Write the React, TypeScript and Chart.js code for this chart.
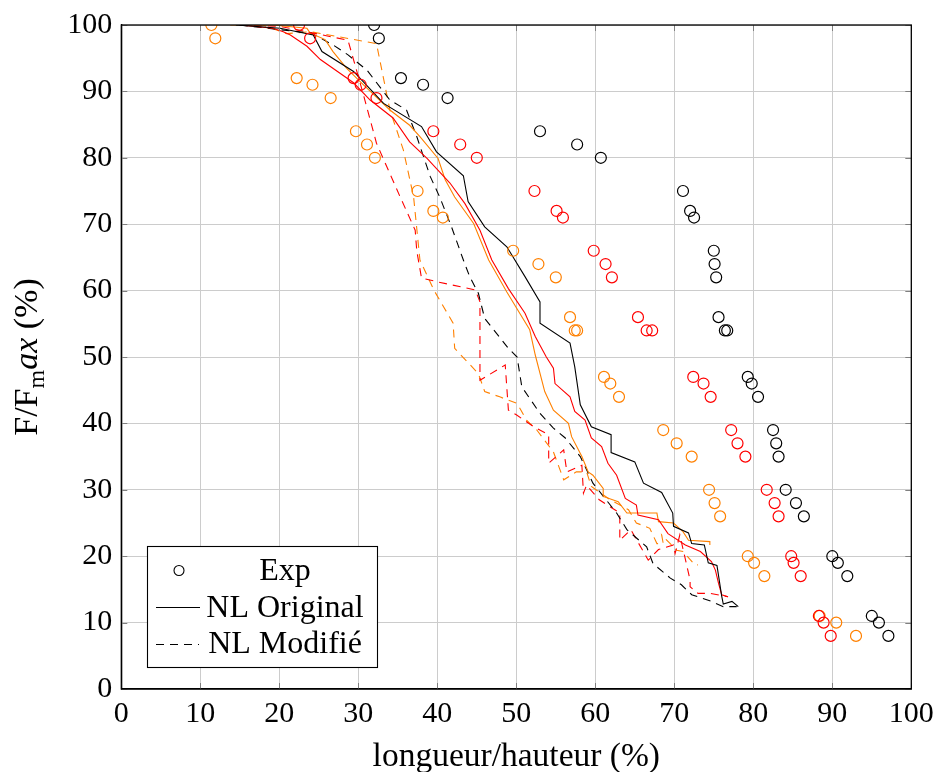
import React, { useEffect, useRef } from 'react';
import { Chart, registerables } from 'chart.js';

Chart.register(...registerables);

const FONT = "'Liberation Serif', 'Times New Roman', serif";
const BLACK = '#000000';
const RED = '#ff0000';
const ORANGE = '#ff8000';

const TICKS = [0, 10, 20, 30, 40, 50, 60, 70, 80, 90, 100];
const LEGEND_LABELS = ['Exp', 'NL Original', 'NL Modifié'];
const X_TITLE = 'longueur/hauteur (%)';

// Experimental points (same F/Fmax levels for the three series)
const expY = [100, 98, 92, 91, 89, 84, 82, 80, 75, 72, 71, 66, 64, 62, 56, 54, 54, 47, 46, 44, 39, 37, 35, 30, 28, 26, 20, 19, 17, 11, 10, 8];
const blackExpX = [32.0, 32.6, 35.4, 38.2, 41.3, 53.0, 57.7, 60.7, 71.1, 72.0, 72.5, 75.0, 75.1, 75.3, 75.6, 76.4, 76.7, 79.3, 79.8, 80.6, 82.5, 82.9, 83.2, 84.1, 85.4, 86.4, 90.0, 90.7, 91.9, 95.0, 95.9, 97.1];
const redExpX = [22.5, 23.9, 29.4, 30.3, 32.3, 39.5, 42.9, 45.0, 52.3, 55.1, 55.9, 59.8, 61.3, 62.1, 65.4, 66.5, 67.2, 72.4, 73.7, 74.6, 77.2, 78.0, 79.0, 81.7, 82.7, 83.2, 84.8, 85.1, 86.0, 88.3, 88.9, 89.8];
const orangeExpX = [11.4, 11.9, 22.2, 24.2, 26.5, 29.7, 31.1, 32.1, 37.5, 39.5, 40.7, 49.6, 52.8, 55.0, 56.8, 57.4, 57.7, 61.1, 61.9, 63.0, 68.6, 70.3, 72.2, 74.4, 75.1, 75.8, 79.3, 80.1, 81.4, 88.4, 90.5, 93.0];

// NL Original (solid)
const blackOrigX = [14.5, 20.1, 24.3, 25.4, 29.4, 33.2, 38.0, 39.9, 43.3, 43.9, 46.0, 48.8, 51.1, 53.0, 53.0, 56.8, 57.4, 58.1, 59.5, 62.0, 62.0, 65.0, 66.1, 68.4, 69.8, 69.9, 71.8, 72.2, 73.8, 74.3, 75.4, 76.0, 76.2, 77.3, 78.1];
const blackOrigY = [100, 99.5, 98.5, 96, 93, 88.2, 84.7, 80.9, 77.3, 73.4, 69.6, 66.6, 62.1, 58.3, 55.1, 52.1, 48.5, 42.8, 39.5, 38.3, 35.6, 34.2, 31, 29.6, 26.5, 24.5, 23.5, 21.9, 21.7, 19, 18.6, 14, 12.8, 13.2, 12.4];

const redOrigX = [15.0, 19.2, 20.5, 21.4, 23.5, 25.2, 29.4, 31.5, 34.4, 36.5, 38.7, 41.6, 43.5, 45.4, 46.9, 49.0, 51.1, 52.4, 53.8, 54.7, 54.9, 56.8, 57.4, 58.7, 59.5, 60.8, 61.6, 62.7, 63.8, 65.2, 65.4, 68.0, 69.2, 71.4, 73.3, 74.7, 75.2, 75.6, 76.0, 76.8];
const redOrigY = [100, 99.5, 99, 98.5, 96.8, 94.8, 91.3, 88.7, 86, 82.4, 79.9, 76.2, 73.1, 69.1, 64.6, 60.3, 56.6, 53.1, 50, 48.3, 46, 44, 41.8, 40.5, 37.8, 36.5, 34, 32.2, 28.7, 27.7, 26.2, 25.5, 23.4, 21.7, 20.7, 19.2, 17.9, 15.9, 14.2, 13.9];

const orangeOrigX = [15.0, 19.2, 23.5, 23.9, 25.8, 26.8, 28.5, 30.2, 34.0, 36.5, 37.8, 40.1, 41.0, 42.2, 44.6, 46.5, 48.8, 51.7, 52.4, 53.6, 54.7, 56.6, 57.0, 58.3, 59.1, 59.7, 61.0, 61.0, 62.9, 64.0, 67.8, 68.0, 69.9, 71.1, 71.8, 74.5, 74.5];
const orangeOrigY = [100, 100, 99.5, 98.8, 97.8, 96, 93.5, 91.5, 87.2, 84.9, 83.2, 79.9, 76.7, 74.1, 70.1, 64.6, 59.8, 54.1, 50.3, 44.8, 42, 40, 38, 35, 32.7, 32.2, 30.2, 29, 28.2, 26.5, 26.5, 25.2, 25, 23.7, 22.4, 22.2, 21.7];

// NL Modifié (dashed)
const blackModX = [15.0, 20.0, 24.0, 26.8, 28.7, 31.1, 34.0, 36.1, 37.4, 39.1, 40.3, 41.8, 43.3, 44.1, 45.2, 46.0, 49.0, 50.1, 50.7, 53.0, 54.7, 56.2, 58.1, 59.7, 62.7, 64.0, 66.5, 67.3, 69.5, 70.9, 72.2, 74.7, 76.2, 77.9];
const blackModY = [100, 99.3, 98.8, 97, 95.5, 93.2, 88.7, 87.2, 83.2, 77.2, 74.1, 69.6, 64.6, 62.1, 59.6, 55.8, 51.3, 50.0, 45.5, 41.5, 39.3, 37.8, 35, 31, 26.5, 24, 21.4, 18.9, 16.7, 15.7, 14.2, 13.2, 12.4, 12.4];

const redModX = [15.0, 20.0, 22.6, 28.7, 30.6, 32.3, 35.3, 37.2, 37.4, 38.0, 40.1, 44.8, 45.4, 45.4, 48.6, 49.0, 50.0, 52.2, 54.1, 54.1, 56.0, 56.4, 58.3, 58.5, 58.9, 60.5, 63.1, 63.1, 64.5, 66.7, 68.0, 69.9, 70.1, 70.7, 72.0, 72.0, 73.0, 74.5, 76.8];
const redModY = [100, 99.8, 99.2, 97.7, 89.7, 82.2, 74.1, 69.1, 66, 61.9, 61.3, 60.1, 58.3, 46.5, 48.8, 42, 41.3, 39.5, 38.3, 34, 36, 32.7, 33.7, 29.5, 30.7, 28.5, 26.5, 22.4, 24, 19.4, 21, 21.7, 20.4, 23.2, 16.4, 15.4, 14.4, 14.4, 13.9];

const orangeModX = [13.8, 17.9, 20.9, 23.9, 32.3, 34.0, 35.7, 37.0, 37.8, 39.6, 42.0, 42.2, 45.2, 46.0, 47.9, 50.1, 51.3, 52.6, 54.7, 56.0, 57.6, 58.9, 59.5, 61.9, 64.2, 65.2, 66.9, 67.8, 68.6, 68.4, 70.3, 71.1, 72.6, 73.0];
const orangeModY = [100, 100, 98.7, 99, 97.2, 87.2, 81.2, 74.1, 64.6, 60, 55.1, 51.3, 47.5, 44.8, 44, 43, 40.5, 39, 35.7, 31.5, 32.7, 32.7, 30.5, 28.5, 27, 25, 24.2, 21.9, 21.9, 23.2, 20.9, 20.7, 18.7, 18.7];

const pts = (xs: number[], ys: number[]) => xs.map((x, i) => ({ x, y: ys[i] }));

const expSet = (xs: number[], color: string) => ({
  data: pts(xs, expY),
  showLine: false,
  pointStyle: 'circle',
  pointRadius: 5.5,
  pointHoverRadius: 5.5,
  pointBorderWidth: 1.2,
  pointBorderColor: color,
  pointBackgroundColor: 'rgba(0,0,0,0)',
  borderColor: color,
  backgroundColor: 'rgba(0,0,0,0)',
});

const lineSet = (xs: number[], ys: number[], color: string, dashed: boolean) => ({
  data: pts(xs, ys),
  showLine: true,
  pointRadius: 0,
  pointHoverRadius: 0,
  borderColor: color,
  backgroundColor: color,
  borderWidth: 1.1,
  borderDash: dashed ? [8, 6] : [],
  tension: 0,
});

const decorPlugin = {
  id: 'decor',
  afterDraw(chart: any) {
    const { ctx, chartArea: a, scales } = chart;
    ctx.save();
    // inner tick marks
    ctx.strokeStyle = '#808080';
    ctx.lineWidth = 1;
    ctx.beginPath();
    for (const v of TICKS) {
      const px = Math.round(scales.x.getPixelForValue(v)) + 0.5;
      const py = Math.round(scales.y.getPixelForValue(v)) + 0.5;
      ctx.moveTo(px, a.bottom); ctx.lineTo(px, a.bottom - 6);
      ctx.moveTo(px, a.top); ctx.lineTo(px, a.top + 6);
      ctx.moveTo(a.left, py); ctx.lineTo(a.left + 6, py);
      ctx.moveTo(a.right, py); ctx.lineTo(a.right - 6, py);
    }
    ctx.stroke();
    // frame
    ctx.strokeStyle = '#000';
    ctx.lineWidth = 1.3;
    ctx.strokeRect(a.left, a.top, a.right - a.left, a.bottom - a.top);

    // legend
    const lx = 147.5, ly = 546.5, lw = 230, lh = 121;
    ctx.fillStyle = '#fff';
    ctx.fillRect(lx, ly, lw, lh);
    ctx.lineWidth = 1.1;
    ctx.strokeRect(lx, ly, lw, lh);
    ctx.fillStyle = '#000';
    ctx.font = `32px ${FONT}`;
    ctx.textAlign = 'center';
    ctx.textBaseline = 'alphabetic';
    const cx = 285;
    const baselines = [580, 616.5, 653];
    LEGEND_LABELS.forEach((t, i) => ctx.fillText(t, cx, baselines[i]));
    // symbols
    ctx.lineWidth = 1.1;
    ctx.beginPath();
    ctx.arc(179, 570.5, 5, 0, Math.PI * 2);
    ctx.stroke();
    ctx.beginPath();
    ctx.moveTo(156, 607.5); ctx.lineTo(200, 607.5);
    ctx.stroke();
    ctx.setLineDash([8, 6]);
    ctx.beginPath();
    ctx.moveTo(156, 644.5); ctx.lineTo(199, 644.5);
    ctx.stroke();
    ctx.setLineDash([]);

    // y axis title with subscript
    ctx.translate(26, (a.top + a.bottom) / 2);
    ctx.rotate(-Math.PI / 2);
    const parts = [
      { t: 'F/F', f: `34px ${FONT}`, dy: 0 },
      { t: 'm', f: `24px ${FONT}`, dy: 7 },
      { t: 'ax', f: `italic 34px ${FONT}`, dy: 0 },
      { t: ' (%)', f: `34px ${FONT}`, dy: 0 },
    ];
    let total = 0;
    const widths = parts.map((p) => { ctx.font = p.f; const w = ctx.measureText(p.t).width; total += w; return w; });
    let x = -total / 2;
    ctx.textAlign = 'left';
    ctx.textBaseline = 'alphabetic';
    parts.forEach((p, i) => {
      ctx.font = p.f;
      ctx.fillText(p.t, x, 11 + p.dy);
      x += widths[i];
    });
    ctx.restore();
  },
};

export default function App() {
  const ref = useRef<HTMLCanvasElement | null>(null);
  useEffect(() => {
    if (!ref.current) return;
    const chart = new Chart(ref.current, {
      type: 'scatter',
      data: {
        datasets: [
          expSet(blackExpX, BLACK),
          expSet(redExpX, RED),
          expSet(orangeExpX, ORANGE),
          lineSet(blackOrigX, blackOrigY, BLACK, false),
          lineSet(redOrigX, redOrigY, RED, false),
          lineSet(orangeOrigX, orangeOrigY, ORANGE, false),
          lineSet(blackModX, blackModY, BLACK, true),
          lineSet(redModX, redModY, RED, true),
          lineSet(orangeModX, orangeModY, ORANGE, true),
        ] as any,
      },
      options: {
        responsive: false,
        animation: false,
        events: [],
        layout: { padding: { top: 25, right: 25.7, left: 0, bottom: 0 } },
        plugins: { legend: { display: false }, tooltip: { enabled: false }, title: { display: false } },
        scales: {
          x: {
            type: 'linear',
            min: 0,
            max: 100,
            afterFit: (s: any) => { s.height = 83; s.paddingLeft = 0; s.paddingRight = 0; },
            afterBuildTicks: (s: any) => { s.ticks = TICKS.map((v) => ({ value: v })); },
            ticks: { stepSize: 10, color: '#000', font: { family: FONT, size: 30 }, padding: 7, maxRotation: 0 },
            grid: { color: '#cccccc', lineWidth: 1, drawTicks: false },
            border: { display: true, color: '#000', width: 1.3 },
            title: { display: true, text: X_TITLE, color: '#000', font: { family: FONT, size: 33.5 }, padding: { top: 0, bottom: -5 } },
          },
          y: {
            type: 'linear',
            min: 0,
            max: 100,
            afterFit: (s: any) => { s.width = 121.3; s.paddingTop = 0; s.paddingBottom = 0; },
            afterBuildTicks: (s: any) => { s.ticks = TICKS.map((v) => ({ value: v })); },
            ticks: { stepSize: 10, color: '#000', font: { family: FONT, size: 30 }, padding: 9 },
            grid: { color: '#cccccc', lineWidth: 1, drawTicks: false },
            border: { display: true, color: '#000', width: 1.3 },
          },
        },
      },
      plugins: [decorPlugin],
    } as any);
    return () => chart.destroy();
  }, []);
  return (
    <div style={{ position: 'fixed', left: 0, top: 0, width: 937, height: 772, background: '#fff' }}>
      <canvas ref={ref} width={937} height={772} style={{ display: 'block', width: 937, height: 772 }} />
    </div>
  );
}
